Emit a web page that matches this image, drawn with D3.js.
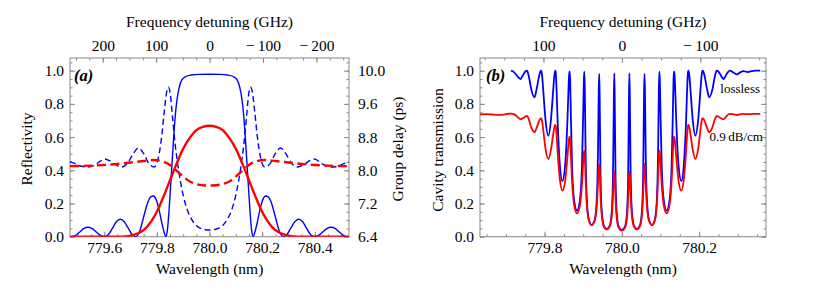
<!DOCTYPE html>
<html><head><meta charset="utf-8">
<script src="https://cdn.jsdelivr.net/npm/d3@7"></script>
<style>
body{margin:0;background:#fff}
svg{display:block}
</style>
</head><body>
<svg id="chart" width="830" height="295"></svg>
<script>
// ---------------- DATA ----------------
// panel (a)
const wlTicksA = [779.6, 779.8, 780.0, 780.2, 780.4];
const wlDomainA = [779.47, 780.53];
const freqTicksA = [200, 100, 0, -100, -200];
const freqTickLabelsA = ["200", "100", "0", "\u2212\u2009100", "\u2212\u2009200"];
const reflTicks = [0, 0.2, 0.4, 0.6, 0.8, 1.0];
const reflTickLabels = ["0.0", "0.2", "0.4", "0.6", "0.8", "1.0"];
const gdTicks = [6.4, 7.2, 8.0, 8.8, 9.6, 10.4];
const gdTickLabels = ["6.4", "7.2", "8.0", "8.8", "9.6", "10.0"];

// reflectivity, lossless grating [wavelength nm, R]
const aReflLossless = [
[779.470,0],[779.475,0],[779.491,0.008],[779.507,0.0285],[779.522,0.049],[779.538,0.057],[779.554,0.049],[779.570,0.0285],[779.586,0.008],[779.602,0],
[779.617,0.015],[779.632,0.0525],[779.646,0.09],[779.661,0.105],[779.676,0.09],[779.691,0.0525],[779.705,0.015],[779.720,0],
[779.735,0.035],[779.750,0.12],[779.765,0.205],[779.777,0.24],[779.787,0.245],[779.797,0.225],[779.808,0.165],[779.820,0.075],[779.828,0.025],[779.834,0],
[779.840,0.04],[779.846,0.15],[779.852,0.30],[779.858,0.45],[779.864,0.60],[779.870,0.73],[779.877,0.83],[779.885,0.90],[779.895,0.945],[779.910,0.965],[779.930,0.974],[779.960,0.978],[780.000,0.979],
[780.040,0.978],[780.070,0.974],[780.090,0.965],[780.105,0.945],[780.115,0.90],[780.123,0.83],[780.130,0.73],[780.136,0.60],[780.142,0.45],[780.148,0.30],[780.154,0.15],[780.160,0.04],[780.166,0],
[780.172,0.025],[780.180,0.075],[780.192,0.165],[780.203,0.225],[780.213,0.245],[780.223,0.24],[780.235,0.205],[780.250,0.12],[780.265,0.035],[780.280,0],
[780.295,0.015],[780.309,0.0525],[780.324,0.09],[780.339,0.105],[780.354,0.09],[780.368,0.0525],[780.383,0.015],[780.398,0],
[780.414,0.008],[780.430,0.0285],[780.446,0.049],[780.462,0.057],[780.478,0.049],[780.493,0.0285],[780.509,0.008],[780.525,0],[780.530,0]
];
// reflectivity, lossy grating
const aReflLossy = [
[779.47,0],[779.60,0],[779.65,0.0005],[779.68,0.002],[779.70,0.006],[779.72,0.015],[779.74,0.03],[779.76,0.055],[779.78,0.095],[779.80,0.15],[779.825,0.24],[779.85,0.34],[779.875,0.44],[779.90,0.53],[779.925,0.595],[779.95,0.642],[779.975,0.662],[780.0,0.668],
[780.025,0.662],[780.05,0.642],[780.075,0.595],[780.10,0.53],[780.125,0.44],[780.15,0.34],[780.175,0.24],[780.20,0.15],[780.22,0.095],[780.24,0.055],[780.26,0.03],[780.28,0.015],[780.30,0.006],[780.32,0.002],[780.35,0.0005],[780.40,0],[780.53,0]
];
// group delay (ps), lossless
const aDelayLossless = [
[779.47,8.208],[779.49,8.16],[779.51,8.104],[779.538,8.08],[779.565,8.128],[779.585,8.22],[779.602,8.272],[779.62,8.232],[779.64,8.144],[779.665,8.08],[779.69,8.18],[779.71,8.4],[779.73,8.536],[779.75,8.4],[779.77,8.16],[779.79,8.08],[779.805,8.28],[779.818,8.8],[779.828,9.4],[779.837,9.88],[779.844,10.0],[779.851,9.84],[779.86,9.24],[779.87,8.6],[779.88,8.12],[779.89,7.72],[779.90,7.4],[779.915,7.06],[779.93,6.84],[779.95,6.672],[779.97,6.592],[780.0,6.56],
[780.03,6.592],[780.05,6.672],[780.07,6.84],[780.085,7.06],[780.10,7.4],[780.11,7.72],[780.12,8.12],[780.13,8.6],[780.14,9.24],[780.149,9.84],[780.156,10.0],[780.163,9.88],[780.172,9.4],[780.182,8.8],[780.195,8.28],[780.21,8.08],[780.23,8.16],[780.25,8.4],[780.27,8.536],[780.29,8.4],[780.31,8.18],[780.335,8.08],[780.36,8.144],[780.38,8.232],[780.398,8.272],[780.415,8.22],[780.435,8.128],[780.462,8.08],[780.49,8.104],[780.51,8.16],[780.53,8.208]
];
// group delay (ps), lossy
const aDelayLossy = [
[779.47,8.1],[779.55,8.112],[779.60,8.128],[779.65,8.152],[779.70,8.188],[779.75,8.224],[779.79,8.248],[779.82,8.22],[779.85,8.128],[779.875,7.992],[779.90,7.848],[779.925,7.732],[779.95,7.668],[779.975,7.64],[780.0,7.632],
[780.025,7.64],[780.05,7.668],[780.075,7.732],[780.10,7.848],[780.125,7.992],[780.15,8.128],[780.18,8.22],[780.21,8.248],[780.25,8.224],[780.30,8.188],[780.35,8.152],[780.40,8.128],[780.45,8.112],[780.53,8.1]
];

// panel (b)
const wlTicksB = [779.8, 780.0, 780.2];
const wlDomainB = [779.633, 780.373];
const freqTicksB = [100, 0, -100];
const freqTickLabelsB = ["100", "0", "\u2212\u2009100"];
const transTicks = [0, 0.2, 0.4, 0.6, 0.8, 1.0];
const transTickLabels = ["0.0", "0.2", "0.4", "0.6", "0.8", "1.0"];
const curveLabels = ["lossless", "0.9\u2009dB/cm"];

const bTransLossless = [
[779.713,1.0],[779.720,0.993],[779.728,0.972],[779.733,0.958],[779.738,0.95],[779.7425,0.967],[779.748,0.988],[779.751,0.997],[779.754,1.0],
[779.7552,0.998],[779.757,0.988],[779.760,0.958],[779.7655,0.889],[779.774,0.84],
[779.7795,0.889],[779.785,0.958],[779.788,0.988],[779.7898,0.998],[779.791,1.0],
[779.7922,0.994],[779.794,0.962],[779.797,0.87],[779.8025,0.703],[779.810,0.608],
[779.8165,0.703],[779.822,0.87],[779.825,0.962],[779.8268,0.994],[779.828,1.0],
[779.8292,0.983],[779.831,0.891],[779.834,0.686],[779.8395,0.436],[779.846,0.336],
[779.8535,0.436],[779.859,0.686],[779.862,0.891],[779.8638,0.983],[779.865,0.996],
[779.8662,0.949],[779.868,0.747],[779.871,0.444],[779.8765,0.221],[779.884,0.157],
[779.8915,0.221],[779.897,0.444],[779.900,0.747],[779.9018,0.949],[779.903,0.994],
[779.9042,0.887],[779.906,0.547],[779.909,0.245],[779.9145,0.103],[779.922,0.07],
[779.930,0.103],[779.9355,0.245],[779.9385,0.547],[779.9403,0.887],[779.9415,0.98],
[779.9427,0.83],[779.9445,0.434],[779.9475,0.172],[779.953,0.069],[779.961,0.046],
[779.969,0.069],[779.9745,0.172],[779.9775,0.434],[779.9793,0.83],[779.9805,0.984],
[779.9817,0.81],[779.9835,0.40],[779.9865,0.152],[779.992,0.06],[780.000,0.04],
[780.008,0.06],[780.0135,0.152],[780.0165,0.40],[780.0183,0.81],[780.0195,0.984],
[780.0207,0.83],[780.0225,0.434],[780.0255,0.172],[780.031,0.069],[780.039,0.046],
[780.047,0.069],[780.0525,0.172],[780.0555,0.434],[780.0573,0.83],[780.0585,0.98],
[780.0597,0.887],[780.0615,0.547],[780.0645,0.245],[780.070,0.103],[780.078,0.07],
[780.0855,0.103],[780.091,0.245],[780.094,0.547],[780.0958,0.887],[780.097,0.994],
[780.0982,0.949],[780.100,0.747],[780.103,0.444],[780.1085,0.221],[780.116,0.157],
[780.1235,0.221],[780.129,0.444],[780.132,0.747],[780.1338,0.949],[780.135,0.996],
[780.1362,0.983],[780.138,0.891],[780.141,0.686],[780.1465,0.436],[780.154,0.336],
[780.1605,0.436],[780.166,0.686],[780.169,0.891],[780.1708,0.983],[780.172,1.0],
[780.1732,0.994],[780.175,0.962],[780.178,0.87],[780.1835,0.703],[780.190,0.608],
[780.1975,0.703],[780.203,0.87],[780.206,0.962],[780.2078,0.994],[780.209,1.0],
[780.2102,0.998],[780.212,0.988],[780.215,0.958],[780.2205,0.889],[780.226,0.84],
[780.2345,0.889],[780.240,0.958],[780.243,0.988],[780.2448,0.998],[780.246,1.0],
[780.249,0.997],[780.252,0.988],[780.2575,0.967],[780.263,0.95],
[780.268,0.967],[780.274,0.99],[780.280,1.0],
[780.289,0.988],[780.298,0.978],[780.306,0.99],[780.315,0.998],[780.325,0.992],[780.335,0.997],[780.345,1.0],[780.358,1.0]
];
const bTransLossy = [
[779.633,0.737],[779.650,0.738],[779.665,0.736],[779.680,0.734],[779.695,0.736],[779.705,0.740],[779.713,0.742],[779.720,0.738],[779.728,0.726],[779.733,0.715],[779.738,0.707],
[779.7425,0.712],[779.748,0.72],[779.751,0.725],[779.754,0.727],
[779.7552,0.726],[779.757,0.72],[779.760,0.702],[779.7655,0.66],[779.774,0.629],
[779.7795,0.656],[779.785,0.692],[779.788,0.707],[779.7898,0.712],[779.791,0.713],
[779.7922,0.71],[779.794,0.691],[779.797,0.636],[779.8025,0.531],[779.810,0.468],
[779.8165,0.523],[779.822,0.611],[779.825,0.655],[779.8268,0.67],[779.828,0.673],
[779.8292,0.665],[779.831,0.618],[779.834,0.505],[779.8395,0.348],[779.846,0.277],
[779.8535,0.34],[779.859,0.473],[779.862,0.561],[779.8638,0.596],[779.865,0.602],
[779.8662,0.585],[779.868,0.501],[779.871,0.342],[779.8765,0.192],[779.884,0.141],
[779.8915,0.188],[779.897,0.32],[779.900,0.444],[779.9018,0.506],[779.903,0.518],
[779.9042,0.49],[779.906,0.371],[779.909,0.208],[779.9145,0.0998],[779.922,0.07],
[779.930,0.0986],[779.9355,0.197],[779.9385,0.33],[779.9403,0.418],[779.9415,0.438],
[779.9427,0.406],[779.9445,0.282],[779.9475,0.142],[779.953,0.064],[779.961,0.044],
[779.969,0.063],[779.9745,0.138],[779.9775,0.263],[779.9793,0.366],[779.9805,0.392],
[779.9817,0.36],[779.9835,0.243],[779.9865,0.119],[779.992,0.052],[780.000,0.036],
[780.008,0.052],[780.0135,0.119],[780.0165,0.243],[780.0183,0.36],[780.0195,0.392],
[780.0207,0.366],[780.0225,0.263],[780.0255,0.138],[780.031,0.063],[780.039,0.044],
[780.047,0.064],[780.0525,0.142],[780.0555,0.282],[780.0573,0.406],[780.0585,0.438],
[780.0597,0.418],[780.0615,0.33],[780.0645,0.197],[780.070,0.0986],[780.078,0.07],
[780.0855,0.0998],[780.091,0.208],[780.094,0.371],[780.0958,0.49],[780.097,0.518],
[780.0982,0.506],[780.100,0.444],[780.103,0.32],[780.1085,0.188],[780.116,0.141],
[780.1235,0.192],[780.129,0.342],[780.132,0.501],[780.1338,0.585],[780.135,0.602],
[780.1362,0.596],[780.138,0.561],[780.141,0.473],[780.1465,0.34],[780.154,0.277],
[780.1605,0.348],[780.166,0.505],[780.169,0.618],[780.1708,0.665],[780.172,0.673],
[780.1732,0.67],[780.175,0.655],[780.178,0.611],[780.1835,0.523],[780.190,0.468],
[780.1975,0.531],[780.203,0.636],[780.206,0.691],[780.2078,0.71],[780.209,0.713],
[780.2102,0.712],[780.212,0.707],[780.215,0.692],[780.2205,0.656],[780.226,0.629],
[780.2345,0.66],[780.240,0.702],[780.243,0.72],[780.2448,0.726],[780.246,0.727],
[780.249,0.725],[780.252,0.72],[780.2575,0.712],[780.263,0.707],
[780.268,0.718],[780.274,0.734],[780.280,0.740],
[780.289,0.737],[780.298,0.733],[780.306,0.737],[780.315,0.740],[780.325,0.738],[780.335,0.739],[780.345,0.740],[780.358,0.740]
];

// ---------------- DRAWING ----------------
const svg = d3.select("#chart");
const FRAME = "#888";
const FONT = '"Liberation Serif"';
const TEXTC = "#000";
const C = 299792.458; // speed of light (km/s); GHz detuning = C*1000/λ(nm) - C*1000/780
const freqOf = l => (C * 1000 / l - C * 1000 / 780.0);

function styleAxis(g) {
  g.select(".domain").remove();
  g.selectAll(".tick line").attr("stroke", FRAME);
  g.selectAll("text").style("font-family", FONT).style("font-size", "15.5px").style("fill", TEXTC);
}
function range(a, b, s) { const out = []; for (let v = a; v <= b + 1e-9; v += s) out.push(+v.toFixed(6)); return out; }
function label(g, size) {
  return g.append("text").style("font-family", FONT).style("font-size", size + "px").style("fill", TEXTC);
}

function panel(cfg) {
  const { L, R, T, B } = cfg;
  const g = svg.append("g");
  const x = d3.scaleLinear().domain(cfg.xDomain).range([L, R]);
  const y = d3.scaleLinear().domain([0, 1.0765]).range([B, T]);
  const f = d3.scaleLinear().domain([freqOf(cfg.xDomain[0]), freqOf(cfg.xDomain[1])]).range([L, R]);

  const clipId = "clip" + cfg.id;
  svg.append("clipPath").attr("id", clipId).append("rect")
    .attr("x", L).attr("y", T).attr("width", R - L).attr("height", B - T);

  // minor ticks
  const xMinor = range(Math.ceil(cfg.xDomain[0] * 20) / 20, cfg.xDomain[1], 0.05);
  g.append("g").attr("transform", `translate(0,${B})`)
    .call(d3.axisBottom(x).tickValues(xMinor).tickSize(-2.5).tickFormat("")).call(styleAxis);
  const fMinor = range(-250, 250, 25).filter(v => v <= f.domain()[0] && v >= f.domain()[1]);
  g.append("g").attr("transform", `translate(0,${T})`)
    .call(d3.axisTop(f).tickValues(fMinor).tickSize(-2.5).tickFormat("")).call(styleAxis);
  g.append("g").attr("transform", `translate(${L},0)`)
    .call(d3.axisLeft(y).tickValues(range(0, 1.05, 0.05)).tickSize(-2.5).tickFormat("")).call(styleAxis);

  // major ticks
  g.append("g").attr("transform", `translate(0,${B})`)
    .call(d3.axisBottom(x).tickValues(cfg.xTicks).tickSize(-5).tickPadding(5).tickFormat(d3.format(".1f"))).call(styleAxis);
  g.append("g").attr("transform", `translate(0,${T})`)
    .call(d3.axisTop(f).tickValues(cfg.fTicks).tickSize(-5).tickPadding(7).tickFormat((d, i) => cfg.fLabels[i])).call(styleAxis);
  g.append("g").attr("transform", `translate(${L},0)`)
    .call(d3.axisLeft(y).tickValues(cfg.yTicks).tickSize(-5).tickPadding(6).tickFormat((d, i) => cfg.yLabels[i])).call(styleAxis);

  // right axis
  if (cfg.rightGD) {
    const gd = d3.scaleLinear().domain([6.4, 6.4 + 4 * 1.0765]).range([B, T]);
    g.append("g").attr("transform", `translate(${R},0)`)
      .call(d3.axisRight(gd).tickValues(range(6.4, 10.6, 0.2)).tickSize(-2.5).tickFormat("")).call(styleAxis);
    g.append("g").attr("transform", `translate(${R},0)`)
      .call(d3.axisRight(gd).tickValues(gdTicks).tickSize(-5).tickPadding(9).tickFormat((d, i) => gdTickLabels[i])).call(styleAxis);
    cfg.gd = gd;
  } else {
    g.append("g").attr("transform", `translate(${R},0)`)
      .call(d3.axisRight(y).tickValues(range(0, 1.05, 0.05)).tickSize(-2.5).tickFormat("")).call(styleAxis);
    g.append("g").attr("transform", `translate(${R},0)`)
      .call(d3.axisRight(y).tickValues(cfg.yTicks).tickSize(-5).tickFormat("")).call(styleAxis);
  }

  // frame
  g.append("rect").attr("x", L).attr("y", T).attr("width", R - L).attr("height", B - T)
    .attr("fill", "none").attr("stroke", FRAME).attr("stroke-width", 1);

  // titles
  const cx = (L + R) / 2;
  label(g, 15.5).attr("x", cx).attr("y", 26.5).attr("text-anchor", "middle").text("Frequency detuning (GHz)");
  label(g, 15.5).attr("x", cx).attr("y", 274).attr("text-anchor", "middle").text("Wavelength (nm)");
  label(g, 15.5).attr("transform", `translate(${cfg.yLabelX},${cfg.yLabelY}) rotate(-90)`)
    .attr("text-anchor", "middle").text(cfg.yTitle);
  if (cfg.rightTitle) {
    label(g, 15.5).attr("transform", `translate(${cfg.rightTitleX},149) rotate(-90)`)
      .attr("text-anchor", "middle").text(cfg.rightTitle);
  }
  label(g, 16.5).attr("x", cfg.tagX).attr("y", 81)
    .style("font-weight", "bold").style("font-style", "italic").text(cfg.tag);

  return { g, x, y, clipId, gd: cfg.gd };
}

const lineGen = (x, y) => d3.line().x(d => x(d[0])).y(d => y(d[1])).curve(d3.curveMonotoneX);
function drawLine(p, data, yS, color, width, dash) {
  const path = p.g.append("path").datum(data).attr("clip-path", `url(#${p.clipId})`)
    .attr("fill", "none").attr("stroke", color).attr("stroke-width", width)
    .attr("stroke-linejoin", "round").attr("d", lineGen(p.x, yS));
  if (dash) path.attr("stroke-dasharray", dash);
}

// Panel (a)
const pa = panel({
  id: "A", L: 70, R: 349, T: 58, B: 236.7,
  xDomain: wlDomainA, xTicks: wlTicksA, fTicks: freqTicksA, fLabels: freqTickLabelsA,
  yTicks: reflTicks, yLabels: reflTickLabels, yTitle: "Reflectivity", yLabelX: 32, yLabelY: 149,
  rightGD: true, rightTitle: "Group delay (ps)", rightTitleX: 403, tag: "(a)", tagX: 74
});
drawLine(pa, aDelayLossless, pa.gd, "#0000ff", 1.4, "6,3.5");
drawLine(pa, aReflLossless, pa.y, "#0000ff", 1.4, null);
drawLine(pa, aDelayLossy, pa.gd, "#ff0000", 2.4, "9,4.5");
drawLine(pa, aReflLossy, pa.y, "#ff0000", 2.4, null);

// Panel (b)
const pb = panel({
  id: "B", L: 480, R: 766, T: 58, B: 236.7,
  xDomain: wlDomainB, xTicks: wlTicksB, fTicks: freqTicksB, fLabels: freqTickLabelsB,
  yTicks: transTicks, yLabels: transTickLabels, yTitle: "Cavity transmission", yLabelX: 443, yLabelY: 150,
  rightGD: false, tag: "(b)", tagX: 486
});
drawLine(pb, bTransLossless, pb.y, "#0000ff", 1.8, null);
drawLine(pb, bTransLossy, pb.y, "#ff0000", 1.8, null);
label(pb.g, 13).attr("x", 760).attr("y", 92.5).attr("text-anchor", "end").text(curveLabels[0]);
label(pb.g, 13).attr("x", 763).attr("y", 141).attr("text-anchor", "end").text(curveLabels[1]);
</script>
</body></html>
